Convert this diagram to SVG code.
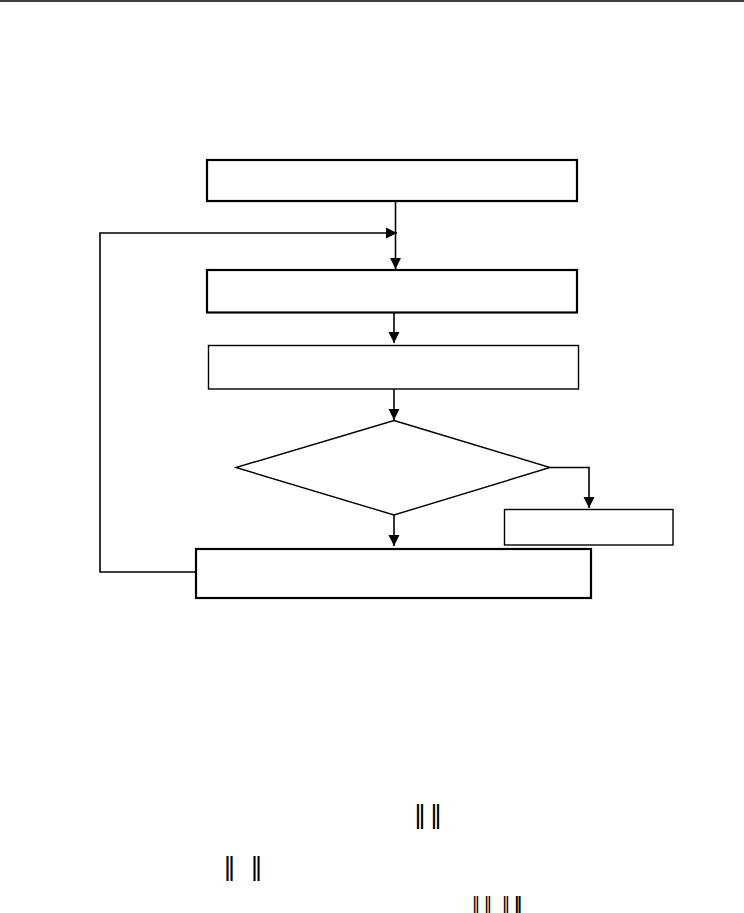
<svg xmlns="http://www.w3.org/2000/svg" width="744" height="913" viewBox="0 0 744 913">
<defs>
<style>
.thick{fill:#fff;stroke:#000;stroke-width:2.2}
.thin{fill:#fff;stroke:#000;stroke-width:1.4}
.conn{fill:none;stroke:#000;stroke-width:1.6}
.bar{font-family:"DejaVu Sans",sans-serif;font-size:25px;fill:#000;text-anchor:middle}
.bar3{font-family:"DejaVu Sans",sans-serif;font-size:17px;fill:#000;text-anchor:middle}
</style>
<marker id="ah" viewBox="0 0 11 11" refX="11" refY="5.5" markerWidth="11" markerHeight="11.5" markerUnits="userSpaceOnUse" orient="auto">
<path d="M0,0 L11,5.5 L0,11 Z" fill="#000"/>
</marker>
</defs>
<rect width="744" height="913" fill="#fff"/>
<line x1="0" y1="1" x2="744" y2="1" stroke="#000" stroke-width="1.6"/>
<g id="connectors">
<line class="conn" x1="395.5" y1="202" x2="395.5" y2="269" marker-end="url(#ah)"/>
<polyline class="conn" points="196,572 100,572 100,233 397,233" marker-end="url(#ah)"/>
<line class="conn" x1="394" y1="313" x2="394" y2="343" marker-end="url(#ah)"/>
<line class="conn" x1="394" y1="389" x2="394" y2="420" marker-end="url(#ah)"/>
<line class="conn" x1="394" y1="515" x2="394" y2="546" marker-end="url(#ah)"/>
<polyline class="conn" points="550,467.5 589,467.5 589,508" marker-end="url(#ah)"/>
</g>
<g id="box1"><rect class="thick" x="207" y="160" width="370" height="41"/></g>
<g id="box2"><rect class="thick" x="207" y="270" width="370" height="42.5"/></g>
<g id="box3"><rect class="thin" x="208.5" y="345.5" width="370" height="43.5"/></g>
<g id="decision"><polygon class="thin" points="394,420.5 550,467.5 394,515 236,467.5"/></g>
<g id="box_right"><rect class="thin" x="504.5" y="509.5" width="168.5" height="35.5"/></g>
<g id="box_bottom"><rect class="thick" x="196" y="549" width="395" height="49"/></g>
<g id="formula">
<text class="bar" x="420" y="823">‖</text>
<text class="bar" x="436" y="823">‖</text>
<text class="bar" x="229.5" y="875">‖</text>
<text class="bar" x="256.5" y="875">‖</text>
<text class="bar3" x="476" y="909.5">‖</text>
<text class="bar3" x="488" y="909.5">‖</text>
<text class="bar3" x="506" y="909.5">‖</text>
<text class="bar3" x="518" y="909.5" font-weight="bold">‖</text>
</g>
</svg>
